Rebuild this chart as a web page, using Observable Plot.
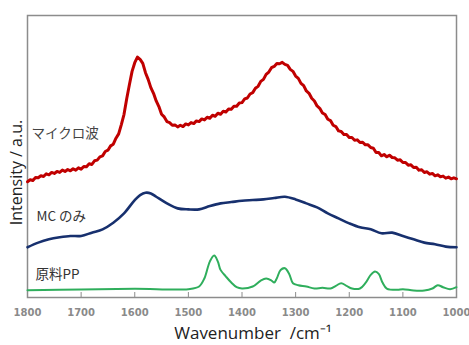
<!DOCTYPE html>
<html><head><meta charset="utf-8">
<script src="https://cdn.jsdelivr.net/npm/d3@7"></script>
<script src="https://cdn.jsdelivr.net/npm/@observablehq/plot@0.6"></script>
<style>body{margin:0;background:#fff}</style>
</head><body><div id="chart"></div>
<script>
const xTicks = [1800,1700,1600,1500,1400,1300,1200,1100,1000];
const seriesNames = ["マイクロ波","MC のみ","原料PP"];
const xTitle = "Wavenumber  /cm⁻¹";
const yTitle = "Intensity / a.u.";

// マイクロ波 (5 cm-1 steps from 1800 to 1000)
const microW = d3.range(1800, 999, -5);
const microV = [34.8,35.4,35.2,36.1,36.0,36.6,36.4,37.2,36.9,37.6,37.3,37.9,37.6,38.3,37.9,38.5,38.1,38.7,38.3,39.0,
38.6,39.4,39.3,40.2,40.0,41.1,41.3,42.3,42.6,43.9,44.3,45.6,46.1,47.9,49.2,52.0,55.1,59.8,64.0,68.0,
70.6,72.3,71.6,70.4,67.6,65.6,63.1,61.4,59.1,57.4,55.1,54.3,52.9,52.6,51.8,51.9,51.3,51.8,51.4,52.2,
51.9,52.6,52.3,53.1,52.9,53.7,53.4,54.2,53.9,54.8,54.5,55.4,55.1,56.0,55.8,56.7,56.6,57.5,57.5,58.5,
58.6,59.7,60.0,61.2,61.6,62.9,63.5,65.0,65.6,67.1,67.8,69.1,69.5,70.4,70.3,70.7,70.1,69.8,68.6,68.0,
66.6,65.9,64.4,63.7,62.1,61.4,59.9,59.1,57.6,56.9,55.5,55.0,53.6,53.2,51.8,51.4,50.1,49.9,49.0,49.0,
48.1,48.1,47.3,47.4,46.6,46.7,45.9,45.9,45.1,44.9,43.6,43.6,42.6,43.0,42.3,42.8,42.1,42.0,41.3,41.4,
40.6,40.6,39.8,39.9,39.1,39.2,38.3,38.4,37.6,37.8,37.1,37.3,36.6,36.9,36.3,36.5,35.9,36.2,35.7,36.0,35.7];

// MC のみ
const mcW = [1800,1780,1760,1740,1720,1700,1680,1660,1640,1620,1600,1590,1580,1570,1560,1540,1520,1500,1480,1460,1440,1420,1400,1380,1360,1340,1320,1300,1280,1260,1240,1220,1200,1180,1160,1140,1120,1100,1080,1060,1040,1020,1000];
const mcV = [15.1,16.5,17.5,18.1,18.5,18.5,19.5,20.5,22.5,25.3,29.3,30.8,31.5,31.3,30.3,28.3,26.8,26.5,26.5,27.5,28.3,28.7,29.1,29.3,29.5,29.9,30.3,29.5,28.3,27.1,25.3,23.8,22.3,21.1,20.5,19.3,19.5,18.5,17.5,16.5,16.0,15.3,15.1];

// 原料PP
const ppW = [1800,1700,1600,1500,1480,1470,1460,1452,1445,1440,1430,1420,1410,1400,1380,1365,1355,1345,1340,1335,1328,1320,1312,1305,1295,1280,1265,1250,1235,1225,1215,1205,1195,1180,1170,1160,1152,1145,1138,1130,1110,1100,1080,1060,1045,1035,1025,1012,1000];
const ppV = [2.2,2.4,2.6,2.5,3.3,5.8,10.8,12.6,10.8,8.3,6.3,4.5,3.1,2.7,3.3,5.1,5.7,5.1,4.5,5.8,8.3,8.8,7.1,4.3,3.7,3.3,2.7,2.9,2.7,3.5,4.3,3.5,2.7,2.7,4.3,6.8,7.8,7.1,4.5,2.7,2.3,2.5,2.1,2.1,2.7,3.7,3.1,2.5,3.1];

const micro = microW.map((w,i)=>({w, v: microV[i]}));
const mc = mcW.map((w,i)=>({w, v: mcV[i]}));
const pp = ppW.map((w,i)=>({w, v: ppV[i]}));

const labelFont = "'Noto Sans CJK JP', 'Noto Sans', sans-serif";

const chart = Plot.plot({
  width: 469, height: 345,
  marginLeft: 27, marginRight: 13, marginTop: 15, marginBottom: 48,
  style: {fontFamily: "DejaVu Sans, sans-serif", background: "#fff"},
  x: {domain: [1800, 1000]},
  y: {domain: [0, 84.8]},
  marks: [
    Plot.frame({stroke: "#8c8c8c", strokeWidth: 1.5}),
    Plot.axisX({ticks: xTicks, tickSize: 0, tickPadding: 11, fontSize: 10, fill: "#8a8a8a", fontWeight: "bold", label: null, tickFormat: d => String(d)}),
    Plot.tickX(xTicks, {x: d => d, stroke: "#8c8c8c", insetTop: 277}),
    Plot.axisY({ticks: [], label: null, tickSize: 0}),
    Plot.line(pp, {x: "w", y: "v", stroke: "#2fae5c", strokeWidth: 2, curve: "catmull-rom"}),
    Plot.line(mc, {x: "w", y: "v", stroke: "#17306e", strokeWidth: 2.6, curve: "catmull-rom"}),
    Plot.line(micro, {x: "w", y: "v", stroke: "#c00000", strokeWidth: 3}),
    Plot.text([seriesNames[0]], {frameAnchor: "left", textAnchor: "start", dx: 4, dy: -23, fontSize: 13.5, fill: "#444", fontFamily: labelFont}),
    Plot.text([seriesNames[1]], {frameAnchor: "left", textAnchor: "start", dx: 9, dy: 60, fontSize: 13.5, fill: "#333", fontFamily: labelFont}),
    Plot.text([seriesNames[2]], {frameAnchor: "left", textAnchor: "start", dx: 8, dy: 118, fontSize: 13.5, fill: "#333", fontFamily: labelFont}),
    Plot.text([xTitle], {frameAnchor: "bottom", dy: 41, dx: 11, fontSize: 17, fill: "#222", fontFamily: "'Open Sans', sans-serif"}),
    Plot.text([yTitle], {frameAnchor: "left", textAnchor: "middle", rotate: -90, dx: -11, dy: 16, fontSize: 16, fill: "#222", fontFamily: "'Open Sans', sans-serif"})
  ]
});
document.getElementById("chart").appendChild(chart);
</script></body></html>
